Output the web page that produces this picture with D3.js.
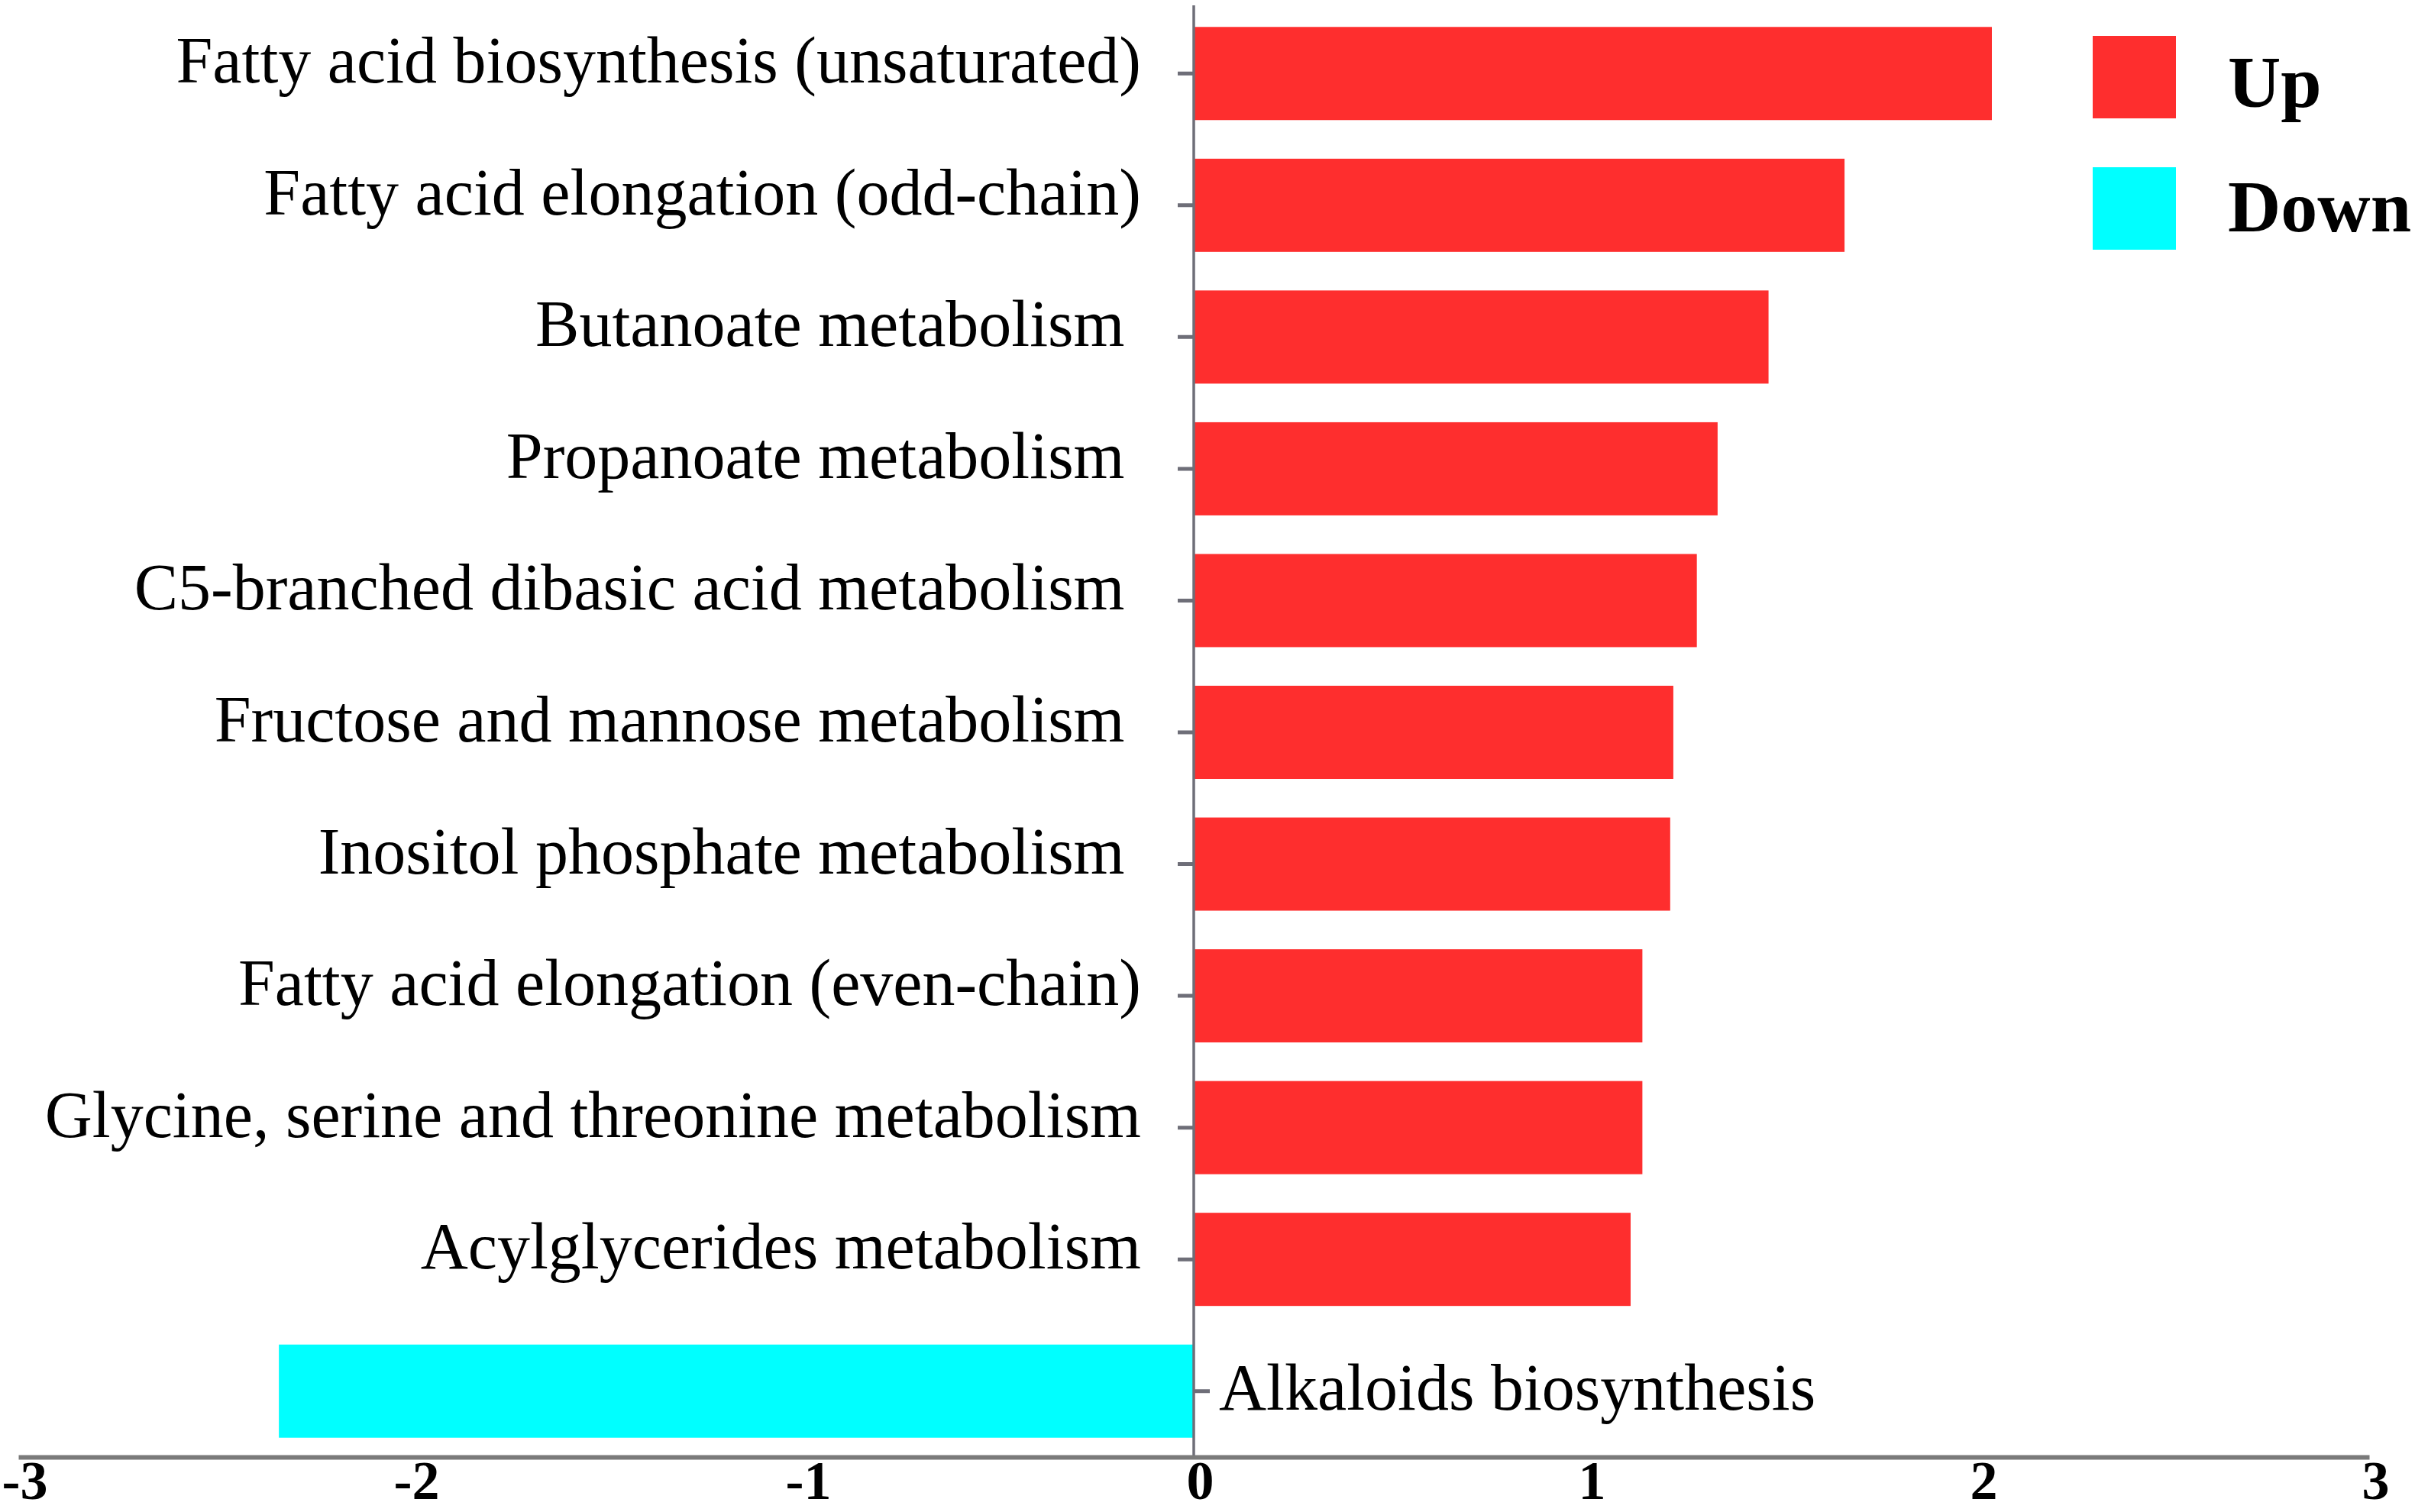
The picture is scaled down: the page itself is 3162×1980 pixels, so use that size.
<!DOCTYPE html>
<html>
<head>
<meta charset="utf-8">
<script src="https://d3js.org/d3.v7.min.js"></script>
<style>
  body { margin: 0; background: #fff; }
  svg { display: block; }
</style>
</head>
<body>
<div id="chart"></div>
<script>
var svgWidth = 3162;
var svgHeight = 1980;

// pathway names (trailing nbsp kept where the original labels end short)
var pathways = [
  "Fatty acid biosynthesis (unsaturated)",
  "Fatty acid elongation (odd-chain)",
  "Butanoate metabolism\u00a0",
  "Propanoate metabolism\u00a0",
  "C5-branched dibasic acid metabolism\u00a0",
  "Fructose and mannose metabolism\u00a0",
  "Inositol phosphate metabolism\u00a0",
  "Fatty acid elongation (even-chain)",
  "Glycine, serine and threonine metabolism",
  "Acylglycerides metabolism",
  "Alkaloids biosynthesis"
];

var values = [2.037, 1.661, 1.467, 1.337, 1.284, 1.224, 1.216, 1.145, 1.145, 1.115, -2.335];

var xTicks = [-3, -2, -1, 0, 1, 2, 3];

var legendKeys = ["Up", "Down"];
var legendColors = ["#fe2e2e", "#00ffff"];

var data = pathways.map(function(p, i){
  return {name: p, value: values[i]};
});

var serif = "'Liberation Serif', 'Times New Roman', serif";
var axisColor = "#6e6e78";

var svg = d3.select("#chart")
  .append("svg")
  .attr("width", svgWidth)
  .attr("height", svgHeight);

svg.append("rect")
  .attr("width", svgWidth)
  .attr("height", svgHeight)
  .attr("fill", "#fff");

// scales
var x = d3.scaleLinear()
  .domain([-3, 3])
  .range([24, 3102]);

var y = d3.scaleBand()
  .domain(pathways)
  .range([10, 1908])
  .paddingInner(0.293)
  .paddingOuter(0.1465);

// category ticks, crossing the axis (bars drawn over them)
var yAxis = svg.append("g")
  .attr("transform", `translate(${x(0)}, 0)`)
  .call(d3.axisLeft(y).tickSizeOuter(0).tickFormat(""));

yAxis.select(".domain").remove();
yAxis.selectAll(".tick line")
  .attr("x1", -21)
  .attr("x2", 21)
  .attr("stroke", axisColor)
  .attr("stroke-width", 5);

// bars
svg.append("g").selectAll("rect")
  .data(data)
  .enter()
  .append("rect")
  .attr("x", d => x(Math.min(0, d.value)))
  .attr("y", d => y(d.name))
  .attr("width", d => Math.abs(x(d.value) - x(0)))
  .attr("height", y.bandwidth())
  .attr("fill", d => d.value >= 0 ? legendColors[0] : legendColors[1]);

// vertical zero line
svg.append("line")
  .attr("x1", x(0))
  .attr("x2", x(0))
  .attr("y1", 7)
  .attr("y2", 1908)
  .attr("stroke", axisColor)
  .attr("stroke-width", 3.5);

// x axis
var xAxis = svg.append("g")
  .attr("transform", "translate(0, 1908)")
  .call(d3.axisBottom(x).tickValues(xTicks).tickSize(0).tickSizeOuter(0).tickFormat(d3.format("d")));

xAxis.select(".domain")
  .attr("stroke", "#7a7a7a")
  .attr("stroke-width", 6);

xAxis.selectAll(".tick text")
  .attr("y", 55)
  .attr("dy", 0)
  .attr("dx", 8)
  .attr("fill", "#000")
  .style("font-family", serif)
  .style("font-weight", "bold")
  .style("font-size", "72px")
  .text(d => d < 0 ? "-" + Math.abs(d) : d);

// category labels
svg.append("g").selectAll("text")
  .data(data)
  .enter()
  .append("text")
  .attr("x", d => d.value >= 0 ? x(0) - 69 : x(0) + 33)
  .attr("y", d => y(d.name) + y.bandwidth() / 2 + (d.value >= 0 ? 12 : 24))
  .attr("text-anchor", d => d.value >= 0 ? "end" : "start")
  .style("font-family", serif)
  .style("font-size", "86px")
  .style("white-space", "pre")
  .attr("fill", "#000")
  .text(d => d.name);

// legend
var legend = svg.append("g");

legend.selectAll("rect")
  .data(legendKeys)
  .enter()
  .append("rect")
  .attr("x", 2740)
  .attr("y", (d, i) => 47 + i * 172)
  .attr("width", 109)
  .attr("height", 108)
  .attr("fill", (d, i) => legendColors[i]);

legend.selectAll("text")
  .data(legendKeys)
  .enter()
  .append("text")
  .attr("x", 2917)
  .attr("y", (d, i) => 140 + i * 163)
  .style("font-family", serif)
  .style("font-weight", "bold")
  .style("font-size", "96px")
  .attr("fill", "#000")
  .text(d => d);
</script>
</body>
</html>
